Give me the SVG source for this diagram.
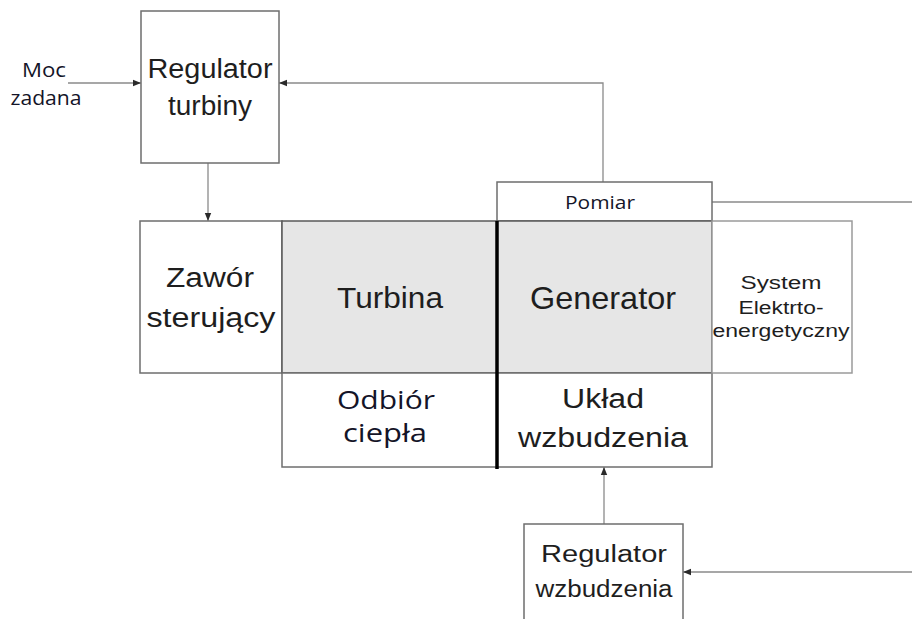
<svg xmlns="http://www.w3.org/2000/svg" width="912" height="619" viewBox="0 0 912 619">
  <defs>
    <style>
      .box { fill: #ffffff; stroke: #6e6e6e; stroke-width: 1.5; }
      .gray { fill: #e6e6e6; stroke: #5a5a5a; stroke-width: 1.5; }
      .light { fill: #ffffff; stroke: #9a9a9a; stroke-width: 1.5; }
      .wire { fill: none; stroke: #8a8a8a; stroke-width: 1.3; }
      .arr { marker-end: url(#tip); }
      .sans { font-family: "Liberation Sans", Arial, sans-serif; fill: #1e1e1e; text-anchor: middle; }
      .cal { font-family: "Open Sans", "Noto Sans", sans-serif; fill: #141428; text-anchor: middle; }
    </style>
    <marker id="tip" viewBox="0 0 10 10" refX="10" refY="5" markerWidth="8" markerHeight="8" markerUnits="userSpaceOnUse" orient="auto">
      <path d="M0,1 L10,5 L0,9 Z" fill="#2a2a2a"/>
    </marker>
  </defs>

  <!-- connectors -->
  <g id="connectors">
    <line class="wire arr" x1="68" y1="83" x2="141" y2="83"/>
    <polyline class="wire arr" points="603,182 603,83 279,83"/>
    <line class="wire arr" x1="208" y1="163" x2="208" y2="221"/>
    <line class="wire" x1="712" y1="202" x2="912" y2="202"/>
    <line class="wire arr" x1="604" y1="524" x2="604" y2="467"/>
    <line class="wire arr" x1="912" y1="572" x2="683" y2="572"/>
  </g>

  <!-- setpoint input -->
  <g id="moc-zadana">
    <text class="cal" x="44" y="77" font-size="20" textLength="44" lengthAdjust="spacingAndGlyphs">Moc</text>
    <text class="cal" x="46" y="105" font-size="20" textLength="71" lengthAdjust="spacingAndGlyphs">zadana</text>
  </g>

  <g id="regulator-turbiny">
    <rect class="box" x="141" y="11" width="138" height="152"/>
    <text class="sans" x="210" y="78" font-size="27" textLength="125" lengthAdjust="spacingAndGlyphs">Regulator</text>
    <text class="sans" x="210" y="115" font-size="27" textLength="84" lengthAdjust="spacingAndGlyphs">turbiny</text>
  </g>

  <g id="zawor">
    <rect class="box" x="140" y="221" width="142" height="152"/>
    <text class="sans" x="210" y="287" font-size="27" textLength="88" lengthAdjust="spacingAndGlyphs">Zawór</text>
    <text class="sans" x="211" y="327" font-size="27" textLength="129" lengthAdjust="spacingAndGlyphs">sterujący</text>
  </g>

  <g id="turbina">
    <rect class="gray" x="282" y="221" width="215" height="152"/>
    <text class="sans" x="390" y="308" font-size="30" textLength="106" lengthAdjust="spacingAndGlyphs">Turbina</text>
  </g>

  <g id="odbior-ciepla">
    <rect class="box" x="282" y="373" width="215" height="94"/>
    <text class="cal" x="386" y="409" font-size="25" textLength="98" lengthAdjust="spacingAndGlyphs">Odbiór</text>
    <text class="cal" x="385" y="442" font-size="25" textLength="84" lengthAdjust="spacingAndGlyphs">ciepła</text>
  </g>

  <g id="pomiar">
    <rect class="box" x="497" y="182" width="215" height="39"/>
    <text class="cal" x="600" y="209" font-size="19" textLength="70" lengthAdjust="spacingAndGlyphs">Pomiar</text>
  </g>

  <g id="generator">
    <rect class="gray" x="497" y="221" width="215" height="152"/>
    <text class="sans" x="603" y="309" font-size="32" textLength="146" lengthAdjust="spacingAndGlyphs">Generator</text>
  </g>

  <g id="uklad-wzbudzenia">
    <rect class="box" x="497" y="373" width="215" height="94"/>
    <text class="sans" x="603" y="408" font-size="27" textLength="82" lengthAdjust="spacingAndGlyphs">Układ</text>
    <text class="sans" x="603" y="447" font-size="27" textLength="170" lengthAdjust="spacingAndGlyphs">wzbudzenia</text>
  </g>

  <g id="system">
    <rect class="light" x="712" y="221" width="140" height="152"/>
    <text class="sans" x="781" y="289" font-size="18" textLength="81" lengthAdjust="spacingAndGlyphs">System</text>
    <text class="sans" x="781" y="314" font-size="18" textLength="85" lengthAdjust="spacingAndGlyphs">Elektrto-</text>
    <text class="sans" x="781" y="337" font-size="18" textLength="137" lengthAdjust="spacingAndGlyphs">energetyczny</text>
  </g>

  <!-- shaft between turbine and generator -->
  <line id="wal" x1="497" y1="221" x2="497" y2="469" stroke="#000000" stroke-width="3.5"/>

  <g id="regulator-wzbudzenia">
    <rect class="box" x="524" y="524" width="159" height="110"/>
    <text class="sans" x="604" y="562" font-size="23" textLength="126" lengthAdjust="spacingAndGlyphs">Regulator</text>
    <text class="sans" x="604" y="597" font-size="23" textLength="137" lengthAdjust="spacingAndGlyphs">wzbudzenia</text>
  </g>
</svg>
